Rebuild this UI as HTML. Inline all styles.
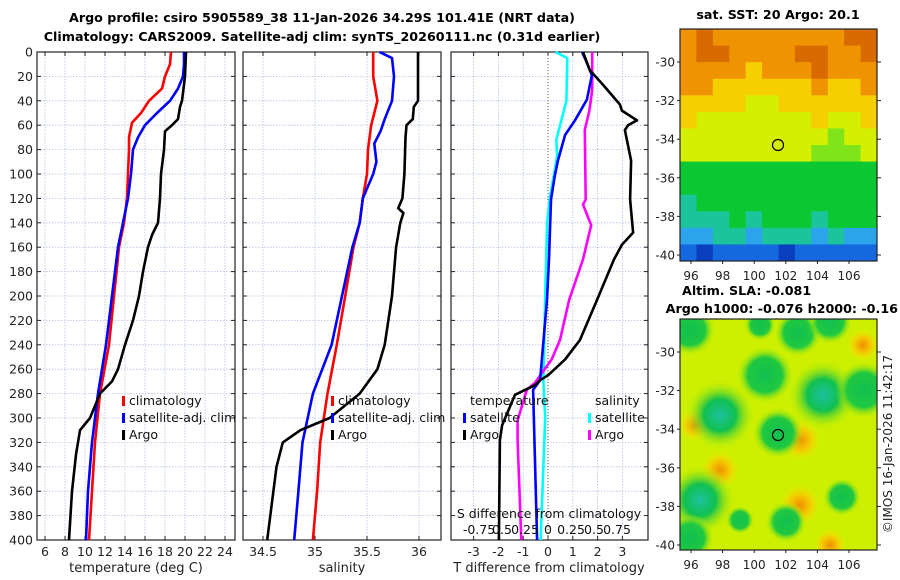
<!DOCTYPE html>
<html><head><meta charset="utf-8"><style>
html,body{margin:0;padding:0;background:#fff;}
svg{display:block;font-family:"DejaVu Sans","Liberation Sans",sans-serif;}
</style></head><body>
<svg id="root" width="900" height="580" viewBox="0 0 900 580" xmlns="http://www.w3.org/2000/svg">
<rect width="900" height="580" fill="#fff"/>
<text x="322" y="22" text-anchor="middle" font-size="12.7" font-weight="bold">Argo profile: csiro 5905589_38 11-Jan-2026 34.29S 101.41E (NRT data)</text>
<text x="322" y="41" text-anchor="middle" font-size="12.7" font-weight="bold">Climatology: CARS2009. Satellite-adj clim: synTS_20260111.nc (0.31d earlier)</text>
<g id="g1"></g>
<g id="g2"></g>
<g id="g3"></g>
<g id="m1"></g>
<g id="m2"></g>
<text x="778" y="19" text-anchor="middle" font-size="12.7" font-weight="bold">sat. SST: 20 Argo: 20.1</text>
<text x="682" y="295" font-size="12.7" font-weight="bold">Altim. SLA: -0.081</text>
<text x="898" y="313" text-anchor="end" font-size="12.7" font-weight="bold">Argo h1000: -0.076 h2000: -0.16</text>
<text transform="translate(892,444) rotate(-90)" text-anchor="middle" font-size="12" fill="#222">©IMOS 16-Jan-2026 11:42:17</text>
</svg>
<script>
// ---- profile data ----
const depthTicks=[0,20,40,60,80,100,120,140,160,180,200,220,240,260,280,300,320,340,360,380,400];
const tempTicks=[6,8,10,12,14,16,18,20,22,24];
const salTicks=[34.5,35,35.5,36];
const dTTicks=[-3,-2,-1,0,1,2,3];
const dSTicks=[-0.75,-0.5,-0.25,0,0.25,0.5,0.75];
const dSLabels=["-0.75","0.5","0.25","0","0.25","0.5","0.75"];

const climTDepth=[0,10,20,30,40,50,58,70,80,100,120,140,160,200,240,280,320,360,400];
const climT=[18.6,18.5,18.0,17.7,16.4,15.6,14.7,14.4,14.4,14.3,14.2,13.9,13.4,12.9,12.4,11.5,11.0,10.7,10.4];
const satTDepth=[0,10,20,30,40,50,60,70,80,100,120,140,160,200,240,280,320,360,400];
const satT=[19.9,19.9,19.8,19.3,18.5,17.2,16.0,15.3,14.8,14.6,14.3,13.8,13.3,12.7,12.1,11.3,10.7,10.3,10.1];
const argoTDepth=[0,20,40,45,55,60,65,80,100,120,140,150,160,180,200,220,240,260,270,280,300,310,330,360,400];
const argoT=[20.1,20.0,19.7,19.5,19.3,18.7,18.0,17.9,17.6,17.5,17.3,16.7,16.3,15.8,15.4,14.8,14.0,13.3,12.7,11.5,10.5,9.5,9.1,8.7,8.4];

const climSDepth=[0,20,40,60,80,100,120,140,160,200,240,280,320,360,400];
const climS=[35.56,35.56,35.60,35.54,35.51,35.50,35.46,35.43,35.37,35.29,35.21,35.12,35.05,35.02,34.98];
const satSDepth=[0,5,20,40,55,65,75,90,100,120,140,160,200,240,280,320,360,400];
const satS=[35.62,35.74,35.76,35.74,35.67,35.63,35.57,35.59,35.56,35.46,35.43,35.36,35.26,35.16,34.98,34.88,34.84,34.80];
const argoSDepth=[0,40,45,55,60,70,100,120,128,132,140,160,200,240,260,280,300,310,320,340,400];
const argoS=[35.99,35.99,35.95,35.94,35.88,35.87,35.86,35.84,35.80,35.85,35.82,35.78,35.74,35.67,35.60,35.43,35.14,34.86,34.69,34.63,34.54];

const argoDTDepth=[0,15,27,43,48,56,60,64,89,121,148,158,170,203,236,252,265,269,273,281,306,318,400];
const argoDT=[1.41,1.69,2.22,2.90,2.98,3.59,3.23,3.10,3.35,3.31,3.43,2.98,2.66,1.98,1.29,0.69,0.0,-0.32,-0.52,-1.33,-1.85,-1.94,-1.98];
const satDTDepth=[0,7,19,39,56,68,89,101,121,170,203,269,277,400];
const satDT=[1.37,1.53,1.77,1.57,1.09,0.69,0.40,0.28,0.12,0.04,-0.04,-0.32,-0.60,-0.44];
const satDSDepth=[0,5,40,72,85,120,140,170,200,270,300,400];
const satDS=[0.08,0.21,0.20,0.09,0.10,0.02,-0.01,-0.02,-0.03,-0.05,-0.03,-0.08];
const argoDSDepth=[0,31,48,64,121,125,142,170,203,236,252,271,277,302,318,400];
const argoDS=[0.48,0.48,0.45,0.40,0.41,0.38,0.47,0.38,0.23,0.13,0.04,-0.14,-0.23,-0.33,-0.33,-0.29];

const NS="http://www.w3.org/2000/svg";
function mk(parent,tag,attrs,text){const e=document.createElementNS(NS,tag);for(const k in attrs)e.setAttribute(k,attrs[k]);if(text!==undefined)e.textContent=text;parent.appendChild(e);return e;}
const yD=d=>52+d*1.22;
const xT=v=>45+(v-6)*10;
const xS=v=>315+(v-35)*104;
const xDT=v=>548+v*24.8;
const xDS=v=>548+v*92;

function panel(g,x0,x1,xticks,xf,xlabels,showY){
  for(const d of depthTicks){
    const gl=mk(g,'line',{x1:x0,x2:x1,y1:yD(d),y2:yD(d),stroke:'#b4c0e4','stroke-width':0.8,'stroke-dasharray':'1.5,1.5'});
    
    
    mk(g,'line',{x1:x0,x2:x0+4,y1:yD(d),y2:yD(d),stroke:'#222'});
    mk(g,'line',{x1:x1,x2:x1-4,y1:yD(d),y2:yD(d),stroke:'#222'});
    if(showY){const t=mk(g,'text',{x:x0-4,y:yD(d)+4.5,'text-anchor':'end','font-size':12.5,fill:'#222'},String(d));
      
      }
  }
  xticks.forEach((v,i)=>{
    const x=xf(v);
    const gl=mk(g,'line',{x1:x,x2:x,y1:52,y2:540,stroke:'#b4c0e4','stroke-width':0.8,'stroke-dasharray':'1.5,1.5'});
    
    
    mk(g,'line',{x1:x,x2:x,y1:540,y2:536,stroke:'#222'});
    mk(g,'line',{x1:x,x2:x,y1:52,y2:56,stroke:'#222'});
    if(xlabels){const t=mk(g,'text',{x:x,y:556,'text-anchor':'middle','font-size':12.5,fill:'#222'},xlabels[i]);
      
      }
  });
  const fr=mk(g,'rect',{x:x0,y:52,width:x1-x0,height:488,fill:'none',stroke:'#222','stroke-width':1.2});
  
  
}
function line(g,ds,vs,xf,col,name){
  const pts=ds.map((d,i)=>xf(vs[i]).toFixed(1)+','+yD(d).toFixed(1)).join(' ');
  const p=mk(g,'polyline',{points:pts,fill:'none',stroke:col,'stroke-width':2.6,'stroke-linejoin':'round'});
  
  
}
function legItem(g,x,y,col,label,name){
  mk(g,'rect',{x:x,y:y-9,width:3,height:10,fill:col});
  const t=mk(g,'text',{x:x+7,y:y,'font-size':12.5,fill:'#111'},label);
  
  
}

const g1=document.getElementById('g1');
panel(g1,37,235,tempTicks,xT,tempTicks.map(String),true);
line(g1,climTDepth,climT,xT,'#ff0000','climatology-temperature-line');
line(g1,satTDepth,satT,xT,'#0000ff','satellite-temperature-line');
line(g1,argoTDepth,argoT,xT,'#000000','argo-temperature-line');
legItem(g1,122,405,'#ff0000','climatology','legend-climatology');
legItem(g1,122,422,'#0000ff','satellite-adj. clim','legend-satellite');
legItem(g1,122,439,'#000000','Argo','legend-argo');
let t=mk(g1,'text',{x:136,y:572,'text-anchor':'middle','font-size':13,fill:'#222'},'temperature (deg C)');



const g2=document.getElementById('g2');
panel(g2,243,441,salTicks,xS,salTicks.map(String),false);
line(g2,climSDepth,climS,xS,'#ff0000','climatology-salinity-line');
line(g2,satSDepth,satS,xS,'#0000ff','satellite-salinity-line');
line(g2,argoSDepth,argoS,xS,'#000000','argo-salinity-line');
legItem(g2,331,405,'#ff0000','climatology','legend-climatology');
legItem(g2,331,422,'#0000ff','satellite-adj. clim','legend-satellite');
legItem(g2,331,439,'#000000','Argo','legend-argo');
t=mk(g2,'text',{x:342,y:572,'text-anchor':'middle','font-size':13,fill:'#222'},'salinity');



const g3=document.getElementById('g3');
panel(g3,451,648,dTTicks,xDT,dTTicks.map(String),false);
mk(g3,'line',{x1:548,x2:548,y1:52,y2:540,stroke:'#556b2f','stroke-width':1,'stroke-dasharray':'1,2'});
line(g3,satDSDepth,satDS,xDS,'#00ffff','satellite-salinity-diff-line');
line(g3,argoDSDepth,argoDS,xDS,'#ff00ff','argo-salinity-diff-line');
line(g3,satDTDepth,satDT,xDT,'#0000ff','satellite-temperature-diff-line');
line(g3,argoDTDepth,argoDT,xDT,'#000000','argo-temperature-diff-line');
t=mk(g3,'text',{x:470,y:405,'font-size':12.5,fill:'#111'},'temperature');


t=mk(g3,'text',{x:595,y:405,'font-size':12.5,fill:'#111'},'salinity');


legItem(g3,463,422,'#0000ff','satellite','legend-temp-satellite');
legItem(g3,463,439,'#000000','Argo','legend-temp-argo');
legItem(g3,588,422,'#00ffff','satellite','legend-sal-satellite');
legItem(g3,588,439,'#ff00ff','Argo','legend-sal-argo');
t=mk(g3,'text',{x:549,y:518,'text-anchor':'middle','font-size':12.5,fill:'#111'},'S difference from climatology');


dSTicks.forEach((v,i)=>{
  const tl=mk(g3,'text',{x:xDS(v),y:534,'text-anchor':'middle','font-size':12.5,fill:'#111'},dSLabels[i]);
  
  
});
t=mk(g3,'text',{x:549,y:572,'text-anchor':'middle','font-size':13,fill:'#222'},'T difference from climatology');



// ---- maps ----
const lonTicks=[96,98,100,102,104,106];
const latTicks=[-30,-32,-34,-36,-38,-40];
const sstRows=[
"ODOOOOOOOODD","ODDOOOODDOOD","OOOOYOOODOOO","OOYYYYYYOYYO","YYYYLLYYYYYY","YLLLLLLLYLLY",
"LLLLLLLLLGLL","LLLLLLLLGGGL","KKKKKKKKKKKK","KKKKKKKKKKKK","TKKKKKKKKKKK","TTTKTKKKTKKK",
"CCTTCTTTCTCC","BNBBBBNBBBBB"];
const sstColors={D:'#d96a00',O:'#ef9300',Y:'#f6cf00',L:'#d4f000',G:'#7fe41a',K:'#0ac832',T:'#1cc49c',C:'#2ca4ec',B:'#1468e0',N:'#0a40c0'};
const slaBlobs=[[690,330,16,'g'],[798,333,15,'g'],[830,322,14,'g'],[765,375,18,'g'],[823,395,22,'t'],[864,390,18,'g'],[720,415,22,'t'],[778,433,16,'g'],[700,500,22,'t'],[842,497,12,'g'],[786,522,13,'g'],[690,538,15,'g'],[740,520,9,'g'],[760,325,10,'g']];
const slaWarm=[[800,440,15],[800,505,15],[695,425,12],[720,470,14],[863,345,12],[830,545,12]];

function mapFrame(g,x0,y0,w,h,latY0,latStep,lonX0,lonStep,labY,circY,name){
  latTicks.forEach((v,i)=>{const y=latY0+i*latStep;
    mk(g,'line',{x1:x0+w,x2:x0+w+4,y1:y,y2:y,stroke:'#222'});
    mk(g,'line',{x1:x0,x2:x0-3,y1:y,y2:y,stroke:'#222'});
    const tl=mk(g,'text',{x:x0-5,y:y+4.5,'text-anchor':'end','font-size':12,fill:'#222'},String(v));
    
    });
  lonTicks.forEach((v,i)=>{const x=lonX0+i*lonStep;
    mk(g,'line',{x1:x,x2:x,y1:y0+h,y2:y0+h+3,stroke:'#222'});
    const tl=mk(g,'text',{x:x,y:labY,'text-anchor':'middle','font-size':12,fill:'#222'},String(v));
    
    });
  const c=mk(g,'circle',{cx:778,cy:circY,r:5.5,fill:'none',stroke:'#000','stroke-width':1.2});
  
  
  const f=mk(g,'rect',{x:x0,y:y0,width:w,height:h,fill:'none',stroke:'#222','stroke-width':1.2});
  
  
}
const m1=document.getElementById('m1');
const cw=197/12,ch=232/14;
sstRows.forEach((row,r)=>{[...row].forEach((c,k)=>{
  mk(m1,'rect',{x:680+k*cw,y:29+r*ch,width:cw+0.5,height:ch+0.5,fill:sstColors[c]});});});
mapFrame(m1,680,29,197,232,62,38.6,691,31.6,280,145,'sst-map-frame');

const m2=document.getElementById('m2');
const defs=mk(m2,'defs',{});
const gg=mk(defs,'radialGradient',{id:'gb'});mk(gg,'stop',{offset:'0%','stop-color':'#10c050'});mk(gg,'stop',{offset:'60%','stop-color':'#20c840'});mk(gg,'stop',{offset:'100%','stop-color':'#c8f000','stop-opacity':0});
const gt=mk(defs,'radialGradient',{id:'gt'});mk(gt,'stop',{offset:'0%','stop-color':'#20c0a0'});mk(gt,'stop',{offset:'45%','stop-color':'#10c050'});mk(gt,'stop',{offset:'100%','stop-color':'#c8f000','stop-opacity':0});
const gw=mk(defs,'radialGradient',{id:'gw'});mk(gw,'stop',{offset:'0%','stop-color':'#f09000'});mk(gw,'stop',{offset:'50%','stop-color':'#f4cc00'});mk(gw,'stop',{offset:'100%','stop-color':'#e8f000','stop-opacity':0});
const cp=mk(defs,'clipPath',{id:'cp2'});mk(cp,'rect',{x:680,y:319,width:197,height:231});
const mg=mk(m2,'g',{'clip-path':'url(#cp2)'});
mk(mg,'rect',{x:680,y:319,width:197,height:231,fill:'#ccf000'});
slaWarm.forEach(b=>mk(mg,'circle',{cx:b[0],cy:b[1],r:b[2]*1.4,fill:'url(#gw)'}));
slaBlobs.forEach(b=>mk(mg,'circle',{cx:b[0],cy:b[1],r:b[2]*1.6,fill:b[3]==='t'?'url(#gt)':'url(#gb)'}));
mapFrame(m2,680,319,197,231,352,38.6,691,31.6,569,435,'sla-map-frame');
</script>
</body></html>
